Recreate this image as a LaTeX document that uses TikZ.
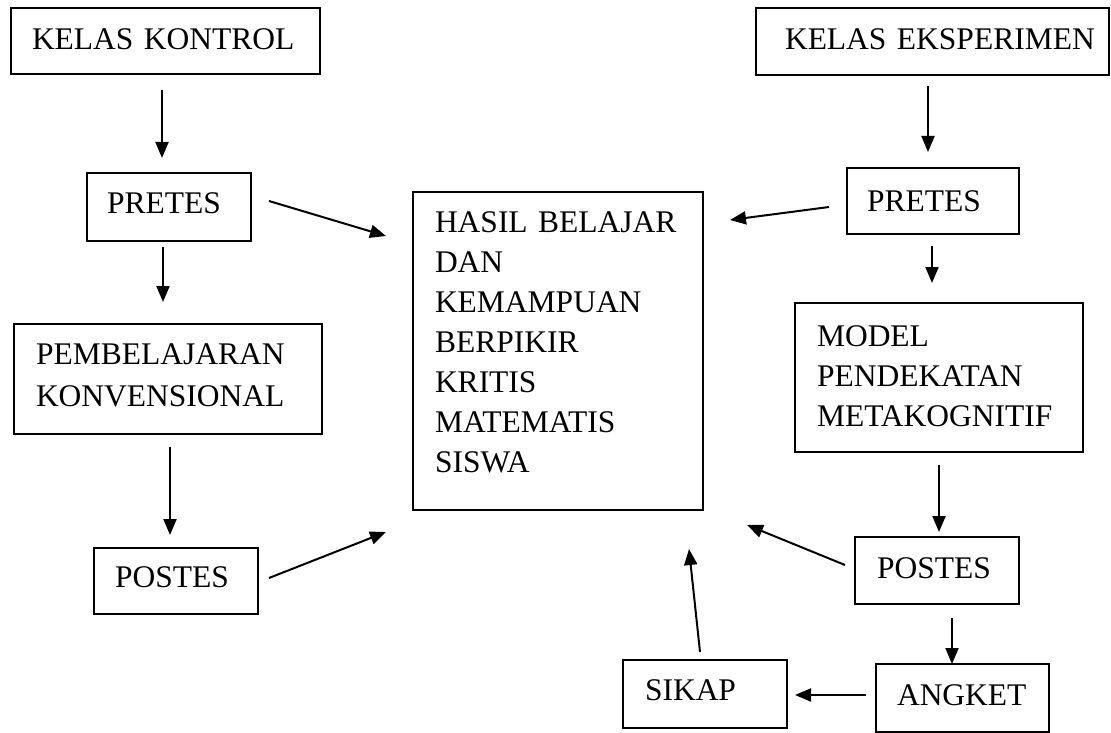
\documentclass[tikz,border=0pt]{standalone}
\usepackage{fontspec}
\setmainfont{Liberation Serif}
\usetikzlibrary{arrows.meta,calc}
\newcommand\ind[1]{\hspace*{#1pt}}
\newcommand\dn[1]{\rule[-#1pt]{0pt}{#1pt}}
\begin{document}
\begin{tikzpicture}[x=1pt,y=-1pt,
  box/.style={draw, line width=2pt, inner xsep=0pt, inner ysep=0pt, outer sep=0pt,
    align=left, font=\fontsize{31.5}{40}\selectfont},
  arr/.style={line width=2pt, -{Triangle[length=16pt,width=13pt]}}]
\useasboundingbox (0,0) rectangle (1111,733);

% left column
\node[box, text width=309pt, minimum height=66pt] (kk) at (165.5,41) {\ind{21}KELAS KONTROL\dn{3}};
\node[box, text width=164pt, minimum height=68pt] (p1) at (169,207) {\ind{20}PRETES\dn{7}};
\node[box, text width=308pt, minimum height=110pt, font=\fontsize{31.5}{42}\selectfont] (pk) at (168,379)
  {\ind{22}PEMBELAJARAN\\\ind{22}KONVENSIONAL\dn{8}};
\node[box, text width=164pt, minimum height=66pt] (q1) at (176,581) {\ind{21}POSTES\dn{7}};

% centre
\node[box, text width=290pt, minimum height=318pt] (hb) at (558,351)
  {\ind{22}HASIL BELAJAR\\\ind{22}DAN\\\ind{22}KEMAMPUAN\\\ind{22}BERPIKIR\\\ind{22}KRITIS\\\ind{22}MATEMATIS\\\ind{22}SISWA\dn{17}};

% right column
\node[box, text width=353pt, minimum height=67pt] (ke) at (932.5,41.5) {\ind{29}KELAS EKSPERIMEN\dn{5}};
\node[box, text width=172pt, minimum height=66pt] (p2) at (933,201) {\ind{20}PRETES};
\node[box, text width=288pt, minimum height=149pt] (md) at (939,377.5)
  {\ind{22}MODEL\\\ind{22}PENDEKATAN\\\ind{22}METAKOGNITIF\dn{3}};
\node[box, text width=164pt, minimum height=67pt] (q2) at (937,570.5) {\ind{22}POSTES\dn{5}};
\node[box, text width=173pt, minimum height=68pt] (an) at (962.5,698) {\ind{21}ANGKET\dn{6}};
\node[box, text width=164pt, minimum height=68pt] (sk) at (705,694) {\ind{22}SIKAP\dn{7}};

% connectors
\draw[arr] ($(kk.south)+(-3.5,16)$) -- ($(p1.north)+(-7,-15)$);
\draw[arr] ($(p1.south)+(-6,6)$) -- ($(pk.north)+(-5,-22)$);
\draw[arr] ($(pk.south)+(2,13)$) -- ($(q1.north)+(-6,-13)$);
\draw[arr] ($(p1.east)+(18,-6)$) -- ($(hb.west)+(-27,-115)$);
\draw[arr] ($(q1.east)+(11,-3)$) -- ($(hb.west)+(-27,181)$);
\draw[arr] ($(ke.south)+(-4.5,11)$) -- ($(p2.north)+(-5,-16)$);
\draw[arr] ($(p2.west)+(-18,6)$) -- ($(hb.east)+(27,-131)$);
\draw[arr] ($(p2.south)+(-1,12)$) -- ($(md.north)+(-7,-20)$);
\draw[arr] ($(md.south)+(0,13)$) -- ($(q2.north)+(2,-5)$);
\draw[arr] ($(q2.west)+(-10,-5.5)$) -- ($(hb.south east)+(44,15)$);
\draw[arr] ($(q2.south)+(15,14)$) -- ($(an.north)+(-10.5,0)$);
\draw[arr] ($(an.west)+(-10,-3)$) -- ($(sk.east)+(8,1)$);
\draw[arr] ($(sk.north)+(-5,-8)$) -- ($(hb.south east)+(-14,39)$);
\end{tikzpicture}
\end{document}
